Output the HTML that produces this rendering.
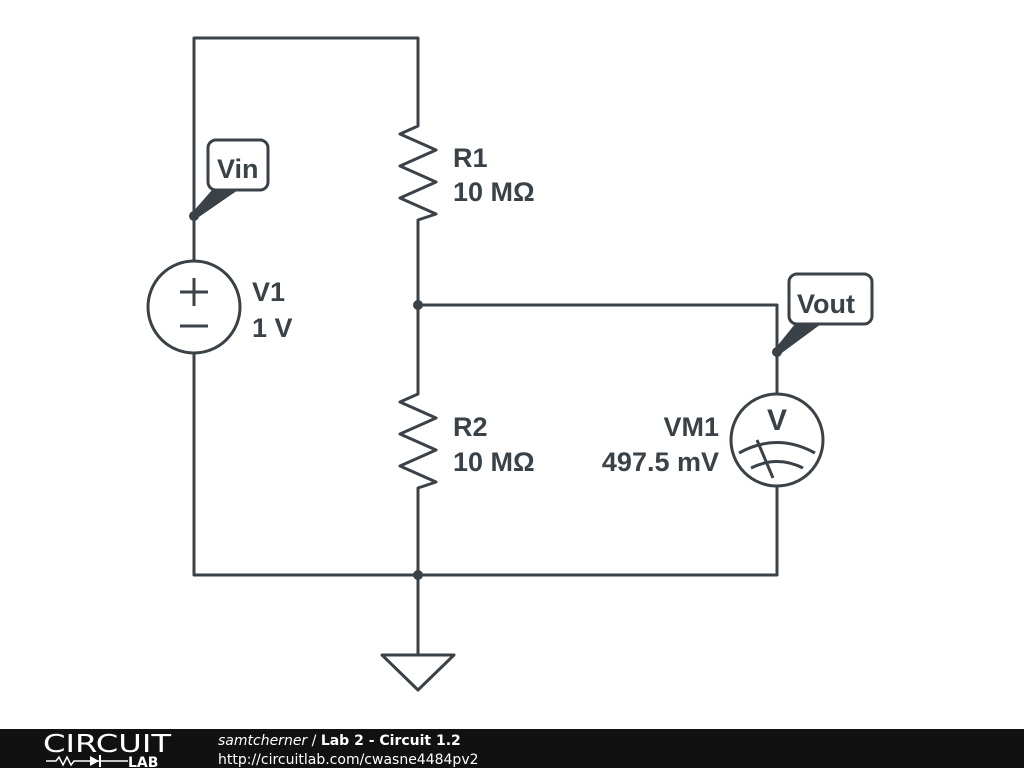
<!DOCTYPE html>
<html><head><style>
html,body{margin:0;padding:0;background:#fff;width:1024px;height:768px;overflow:hidden}
</style></head><body>
<svg width="1024" height="768" xmlns="http://www.w3.org/2000/svg" style="position:absolute;left:0;top:0">
<g stroke="#3a4248" stroke-width="3" fill="none" stroke-linejoin="round">
<polyline points="194,260 194,38 418,38 418,122"/>
<polyline points="418,122 418,126 400,134 436,150 400,166 436,182 400,198 436,214 418,220 418,392"/>
<polyline points="418,392 418,394 400,402 436,418 400,434 436,450 400,466 436,482 418,488 418,655"/>
<polyline points="418,305 777,305 777,393"/>
<polyline points="777,487 777,575 194,575 194,353"/>
<circle cx="194" cy="307" r="46" fill="#fff"/>
<circle cx="777" cy="440" r="46" fill="#fff"/>
<polygon points="382,655 454,655 418,690"/>
<line x1="180" y1="292" x2="208" y2="292"/><line x1="194" y1="278" x2="194" y2="306"/>
<line x1="180" y1="326" x2="208" y2="326"/>
<path d="M739,453 Q777,432 815,453"/>
<path d="M751,468 Q777,455 803,468"/>
<line x1="757" y1="440" x2="773" y2="478"/>
<rect x="208" y="140" width="60" height="50" rx="8" fill="#fff"/>
<rect x="789" y="274" width="83" height="50" rx="8" fill="#fff"/>
</g>
<g fill="#3a4248">
<circle cx="194" cy="216" r="5"/><circle cx="418" cy="305" r="5"/><circle cx="777" cy="352" r="5"/><circle cx="418" cy="575" r="5"/>
<polygon points="191,214 212,190 238,190 196,219"/>
<polygon points="774,350 795,324 821,324 779,355"/>
</g>
<g font-family="Liberation Sans, sans-serif" font-weight="bold" fill="#3a4248" font-size="27">
<text x="217" y="178">Vin</text>
<text x="797" y="313">Vout</text>
<text x="252" y="301">V1</text><text x="252" y="337">1 V</text>
<text x="453" y="167">R1</text><text x="453" y="201">10 MΩ</text>
<text x="453" y="436">R2</text><text x="453" y="471">10 MΩ</text>
<text x="719" y="436" text-anchor="end">VM1</text><text x="719" y="471" text-anchor="end">497.5 mV</text>
<text x="777" y="430" text-anchor="middle" font-size="30">V</text>
</g>
<rect x="0" y="729" width="1024" height="39" fill="#111"/>
<g fill="#fff" font-family="DejaVu Sans, Liberation Sans, sans-serif">
<text x="43" y="752" font-size="25" textLength="128" lengthAdjust="spacingAndGlyphs">CIRCUIT</text>
<text x="128" y="767" font-size="14" font-weight="bold">LAB</text>
<polyline points="46,761 56,761 59,757 63,765 67,757 71,765 74,761 84,761" stroke="#fff" stroke-width="1.5" fill="none"/>
<polygon points="90,756 90,766 99,761"/><line x1="100" y1="755" x2="100" y2="767" stroke="#fff" stroke-width="2"/>
<line x1="84" y1="761" x2="128" y2="761" stroke="#fff" stroke-width="1.5"/>
<text x="218" y="745" font-size="14"><tspan font-style="italic">samtcherner</tspan> / <tspan font-weight="bold">Lab 2 - Circuit 1.2</tspan></text>
<text x="218" y="764" font-size="14">http://circuitlab.com/cwasne4484pv2</text>
</g>
</svg>
</body></html>
